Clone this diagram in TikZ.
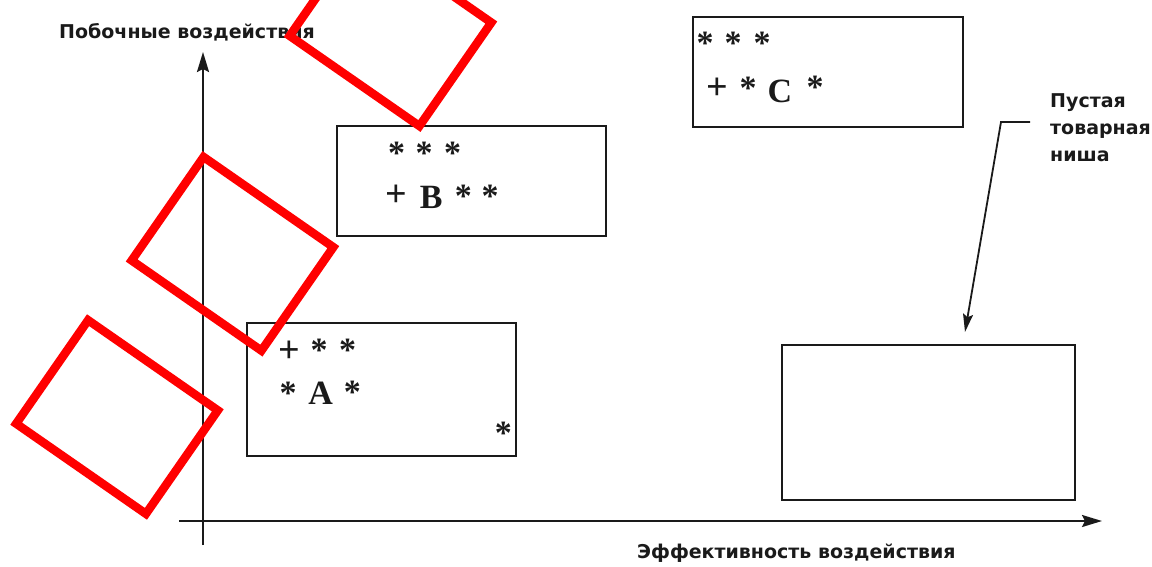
\documentclass[tikz,border=0pt]{standalone}
\usepackage{fontspec}
\setmainfont{Liberation Serif}
\newfontfamily\labelfont{DejaVu Sans}
\usetikzlibrary{arrows.meta}
\definecolor{ink}{HTML}{1A1A1A}
\begin{document}
\begin{tikzpicture}[x=1pt,y=-1pt,
  axisline/.style={line width=2.2pt, draw=ink, -{Stealth[length=20pt,width=12pt,inset=3pt]}},
  leaderline/.style={line width=1.8pt, draw=ink, -{Stealth[length=18pt,width=10pt,inset=3pt]}},
  panel/.style={draw=ink, line width=2pt, inner sep=0pt, fill=none},
  redframe/.style={draw=red, line width=8.5pt, inner sep=0pt, minimum width=158pt, minimum height=126pt},
  letter/.style={anchor=base, inner sep=0pt, text=ink, font=\fontsize{34}{34}\selectfont\bfseries},
  star/.style={anchor=base, inner sep=0pt, text=ink, font=\fontsize{34}{34}\selectfont\bfseries},
  plus/.style={anchor=base, inner sep=0pt, text=ink, font=\fontsize{38}{38}\selectfont\bfseries},
  lbl/.style={inner sep=0pt, text=ink, font=\labelfont\bfseries\fontsize{19}{27}\selectfont},
]
\useasboundingbox (0,0) rectangle (1152,566);
\clip (0,0) rectangle (1152,566);

% axes
\coordinate (ybot) at (203,545);
\coordinate (ytop) at (203,52);
\coordinate (xleft) at (179,521);
\coordinate (xright) at (1102,521);
\draw[axisline] (ybot) -- (ytop);
\draw[axisline] (xleft) -- (xright);

% axis captions
\node[lbl, anchor=base west] (ylab) at (59,38) {Побочные воздействия};
\node[lbl, anchor=base west] (xlab) at (637,558) {Эффективность воздействия};

% product panels
\node[panel, minimum width=269.5pt, minimum height=133pt] (boxA) at (381.7,389.5) {};
\node[panel, minimum width=269.3pt, minimum height=110pt] (boxB) at (471.3,181) {};
\node[panel, minimum width=269.4pt, minimum height=110pt] (boxC) at (828,71.7) {};
\node[panel, minimum width=293pt, minimum height=155pt] (niche) at (928.5,422.5) {};

% panel A
\node[plus] (a1) at (289,362.5) {+};
\node[star] (a2) at (319,361) {*};
\node[star] (a3) at (347.6,361) {*};
\node[star] (a4) at (288,404.3) {*};
\node[letter] (a5) at (320.7,404) {A};
\node[star] (a6) at (352.4,403.3) {*};
\node[star] (a7) at (503.4,444.3) {*};

% panel B
\node[star] (b1) at (396.7,164.3) {*};
\node[star] (b2) at (424,164.3) {*};
\node[star] (b3) at (452.7,164.3) {*};
\node[plus] (b4) at (396.7,206.5) {+};
\node[letter] (b5) at (431.3,208) {B};
\node[star] (b6) at (463.3,207.7) {*};
\node[star] (b7) at (490,207.7) {*};

% panel C
\node[star] (c1) at (705,54) {*};
\node[star] (c2) at (733,54) {*};
\node[star] (c3) at (762,54) {*};
\node[plus] (c4) at (717,99.5) {+};
\node[star] (c5) at (748,99) {*};
\node[letter] (c6) at (780,102) {C};
\node[star] (c7) at (815,98) {*};

% empty niche callout
\node[lbl, anchor=north west, align=left] (nicheTxt) at (1050,93) {Пустая\\товарная\\ниша};
\coordinate (leadStart) at (1030,122);
\coordinate (leadBend) at (1001,122);
\coordinate (leadTip) at (965,332);
\draw[leaderline] (leadStart) -- (leadBend) -- (leadTip);

% red frames
\node[redframe, rotate=-34.8] (r1) at (390.5,29.2) {};
\node[redframe, rotate=-34.8] (r2) at (232.5,253.8) {};
\node[redframe, rotate=-34.8] (r3) at (117,417) {};
\end{tikzpicture}
\end{document}
